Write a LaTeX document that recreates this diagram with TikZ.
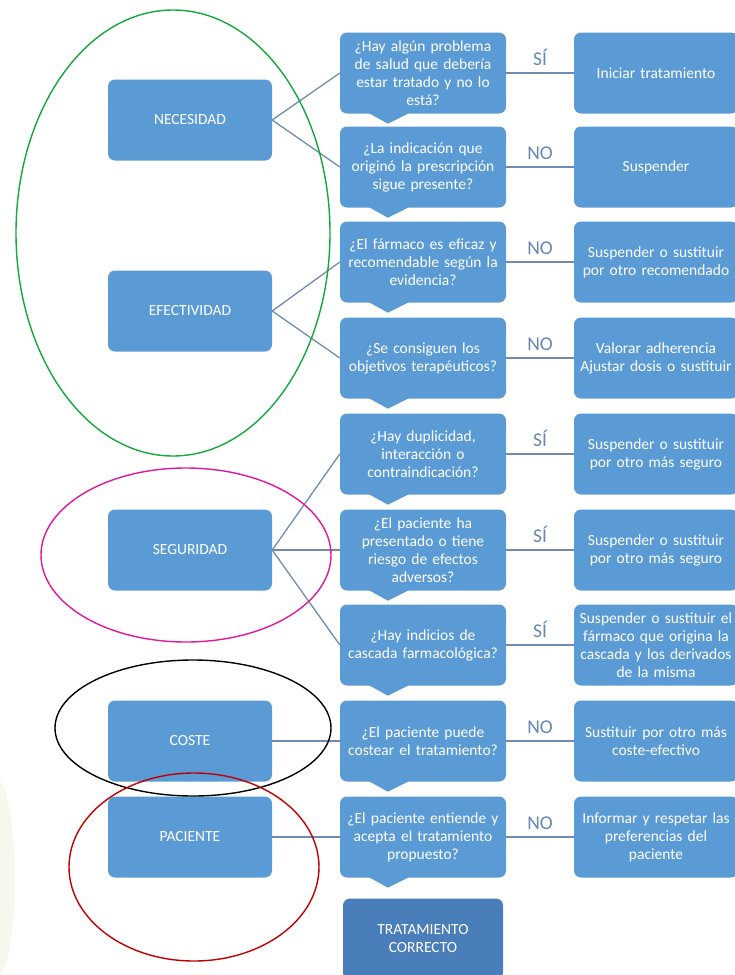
\documentclass[tikz,border=0pt]{standalone}
\usepackage{fontspec}
\setmainfont{Carlito}
\definecolor{boxblue}{HTML}{5B9BD5}
\definecolor{boxdark}{HTML}{4A7EBB}
\definecolor{linkgray}{HTML}{6F8BAE}
\definecolor{labelblue}{HTML}{6587B2}
\definecolor{cream}{HTML}{F8F7EC}
\definecolor{ringgreen}{HTML}{12A83A}
\definecolor{ringpink}{HTML}{E0189A}
\definecolor{ringred}{HTML}{C00000}
\tikzset{
  box/.style = {fill=boxblue, text=white, rounded corners=7pt, minimum height=81pt,
    inner sep=1pt, align=center, font=\fontsize{15.5}{18}\selectfont},
  cat/.style = {box, minimum width=164pt, font=\fontsize{15.5}{18}\selectfont},
  ask/.style = {box, minimum width=166pt, text width=164pt},
  act/.style = {box, minimum width=164pt, text width=162pt},
  link/.style = {draw=linkgray, line width=1.3pt},
  answer/.style = {midway, above=3pt, text=labelblue, font=\fontsize{19.5}{19.5}\selectfont},
  ring/.style = {line width=1.4pt}
}

\begin{document}
\begin{tikzpicture}[x=1pt,y=-1pt]
  \useasboundingbox (0,0) rectangle (735,975);

  \fill[cream] (0,780) .. controls (20,810) and (20,950) .. (0,975) -- cycle;

  % categories
  \node[cat] (nec) at (190,120) {NECESIDAD};
  \node[cat] (efe) at (190,311) {EFECTIVIDAD};
  \node[cat] (seg) at (190,550) {SEGURIDAD};
  \node[cat] (cos) at (190,741) {COSTE};
  \node[cat] (pac) at (190,837) {PACIENTE};

  % questions
  \node[ask] (q1) at (423,73)  {¿Hay algún problema\\de salud que debería\\estar tratado y no lo\\está?};
  \node[ask] (q2) at (423,167) {¿La indicación que\\originó la prescripción\\sigue presente?};
  \node[ask] (q3) at (423,262) {¿El fármaco es eficaz y\\recomendable según la\\evidencia?};
  \node[ask] (q4) at (423,358) {¿Se consiguen los\\objetivos terapéuticos?};
  \node[ask] (q5) at (423,454) {¿Hay duplicidad,\\interacción o\\contraindicación?};
  \node[ask] (q6) at (423,550) {¿El paciente ha\\presentado o tiene\\riesgo de efectos\\adversos?};
  \node[ask] (q7) at (423,645) {¿Hay indicios de\\cascada farmacológica?};
  \node[ask] (q8) at (423,741) {¿El paciente puede\\costear el tratamiento?};
  \node[ask] (q9) at (423,837) {¿El paciente entiende y\\acepta el tratamiento\\propuesto?};
  \node[ask, fill=boxdark, minimum width=160pt, text width=158pt] (fin) at (423,939) {TRATAMIENTO\\CORRECTO};

  \foreach \i in {1,...,9}
    \fill[boxblue] ([xshift=-55pt,yshift=1pt]q\i.south) -- ([xshift=-35pt,yshift=-10pt]q\i.south)
      -- ([xshift=-13pt,yshift=1pt]q\i.south) -- cycle;

  % actions
  \node[act] (a1) at (656,73)  {Iniciar tratamiento};
  \node[act] (a2) at (656,167) {Suspender};
  \node[act] (a3) at (656,262) {Suspender o sustituir\\por otro recomendado};
  \node[act] (a4) at (656,358) {Valorar adherencia\\Ajustar dosis o sustituir};
  \node[act] (a5) at (656,454) {Suspender o sustituir\\por otro más seguro};
  \node[act] (a6) at (656,550) {Suspender o sustituir\\por otro más seguro};
  \node[act] (a7) at (656,645) {Suspender o sustituir el\\fármaco que origina la\\cascada y los derivados\\de la misma};
  \node[act] (a8) at (656,741) {Sustituir por otro más\\coste-efectivo};
  \node[act] (a9) at (656,837) {Informar y respetar las\\preferencias del\\paciente};

  \draw[link] (nec.east) -- (q1.west);
  \draw[link] (nec.east) -- (q2.west);
  \draw[link] (efe.east) -- (q3.west);
  \draw[link] (efe.east) -- (q4.west);
  \draw[link] (seg.east) -- (q5.west);
  \draw[link] (seg.east) -- (q6.west);
  \draw[link] (seg.east) -- (q7.west);
  \draw[link] (cos.east) -- (q8.west);
  \draw[link] (pac.east) -- (q9.west);

  \draw[link] (q1.east) -- (a1.west) node[answer] {SÍ};
  \draw[link] (q2.east) -- (a2.west) node[answer] {NO};
  \draw[link] (q3.east) -- (a3.west) node[answer] {NO};
  \draw[link] (q4.east) -- (a4.west) node[answer] {NO};
  \draw[link] (q5.east) -- (a5.west) node[answer] {SÍ};
  \draw[link] (q6.east) -- (a6.west) node[answer] {SÍ};
  \draw[link] (q7.east) -- (a7.west) node[answer] {SÍ};
  \draw[link] (q8.east) -- (a8.west) node[answer] {NO};
  \draw[link] (q9.east) -- (a9.west) node[answer] {NO};

  % hand-drawn rings
  \draw[ring, ringgreen] (173,233) ellipse [x radius=157, y radius=223];
  \draw[ring, ringpink] (186,555) ellipse [x radius=145, y radius=87];
  \draw[ring, black] (193,728) ellipse [x radius=138, y radius=68];
  \draw[ring, ringred] (194,867) ellipse [x radius=125, y radius=94];
\end{tikzpicture}
\end{document}
